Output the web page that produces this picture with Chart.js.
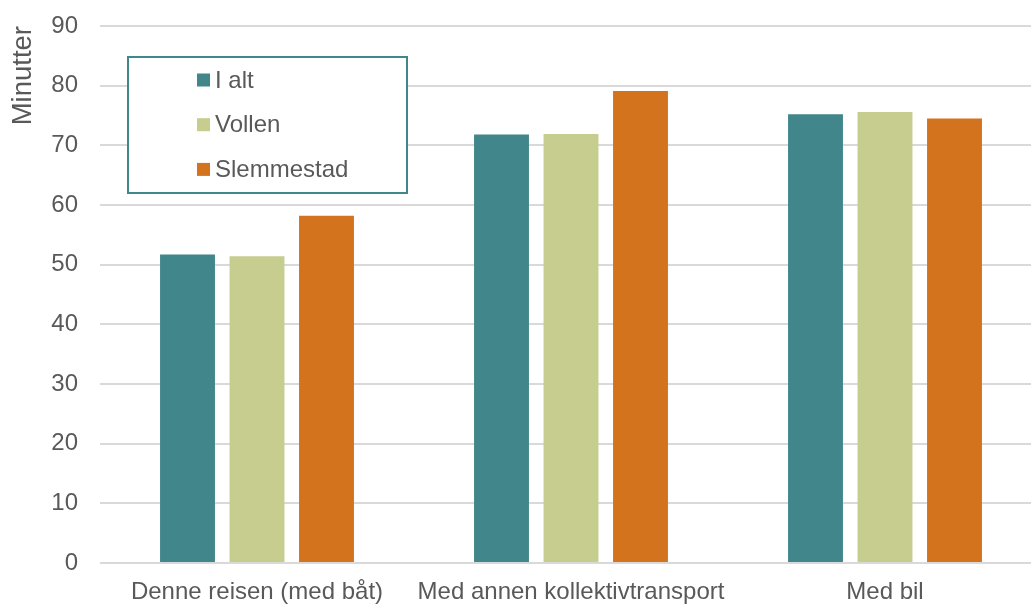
<!DOCTYPE html>
<html>
<head>
<meta charset="utf-8">
<script src="https://cdn.jsdelivr.net/npm/chart.js@4"></script>
<style>
  html, body { margin: 0; padding: 0; background: #ffffff; overflow: hidden; }
  #wrap { position: relative; width: 1042px; height: 604px; }
</style>
</head>
<body>
<div id="wrap"><canvas id="chart"></canvas></div>
<script>
// Reisetid i minutter per reisemåte
const categories = ['Denne reisen (med båt)', 'Med annen kollektivtransport', 'Med bil'];
const seriesNames = ['I alt', 'Vollen', 'Slemmestad'];
const iAlt = [51.7, 71.8, 75.2];
const vollen = [51.4, 71.9, 75.6];
const slemmestad = [58.2, 79.1, 74.5];
const yTicks = [0, 10, 20, 30, 40, 50, 60, 70, 80, 90];

const COLORS = ['#40868a', '#c6cd8f', '#d4731d'];
const TEXT = '#595959';
const FONT = '"Liberation Sans", Arial, sans-serif';

// Legend drawn as a framed box inside the plot area
const boxedLegend = {
  id: 'boxedLegend',
  afterDraw(chart) {
    const ctx = chart.ctx;
    const a = chart.chartArea;
    const x = a.left + 28, y = a.top + 31, w = 279, h = 136;
    ctx.save();
    ctx.fillStyle = '#ffffff';
    ctx.fillRect(x, y, w, h);
    ctx.strokeStyle = '#40868a';
    ctx.lineWidth = 2;
    ctx.strokeRect(x, y, w, h);
    ctx.font = '24px ' + FONT;
    ctx.textBaseline = 'middle';
    ctx.textAlign = 'left';
    chart.data.datasets.forEach((ds, i) => {
      const cy = y + 23 + i * 44.7;
      ctx.fillStyle = ds.backgroundColor;
      ctx.fillRect(x + 69, cy - 6.5, 13, 13);
      ctx.fillStyle = TEXT;
      ctx.fillText(ds.label, x + 87, cy + 1);
    });
    ctx.restore();
  }
};

const seriesValues = [iAlt, vollen, slemmestad];

new Chart(document.getElementById('chart'), {
  type: 'bar',
  data: {
    labels: categories,
    datasets: seriesNames.map((name, i) => ({
      label: name,
      data: seriesValues[i],
      backgroundColor: COLORS[i],
      borderWidth: 0,
      categoryPercentage: 0.664,
      barPercentage: 0.79
    }))
  },
  options: {
    responsive: true,
    maintainAspectRatio: false,
    animation: false,
    layout: { padding: { top: 26, right: 0, bottom: 0, left: 0 } },
    plugins: {
      legend: { display: false },
      tooltip: { enabled: false }
    },
    scales: {
      x: {
        grid: { display: false, drawTicks: false },
        border: { display: false },
        ticks: {
          color: TEXT,
          font: { family: FONT, size: 24 },
          padding: 15,
          maxRotation: 0,
          autoSkip: false
        },
        afterFit(scale) {
          scale.height = 41;
          scale.paddingLeft = 0;
          scale.paddingRight = 0;
        }
      },
      y: {
        min: 0,
        max: 90,
        afterBuildTicks(scale) { scale.ticks = yTicks.map(v => ({ value: v })); },
        grid: { color: '#d9d9d9', lineWidth: 2, drawTicks: false },
        border: { display: false },
        ticks: {
          color: TEXT,
          font: { family: FONT, size: 24 },
          padding: 22
        },
        title: {
          display: true,
          text: 'Minutter',
          align: 'end',
          color: TEXT,
          font: { family: FONT, size: 27.5 },
          padding: { top: 7, bottom: 0 }
        },
        afterFit(scale) {
          scale.width = 100;
          scale.paddingTop = 0;
          scale.paddingBottom = 0;
        }
      }
    }
  },
  plugins: [boxedLegend]
});
</script>
</body>
</html>
